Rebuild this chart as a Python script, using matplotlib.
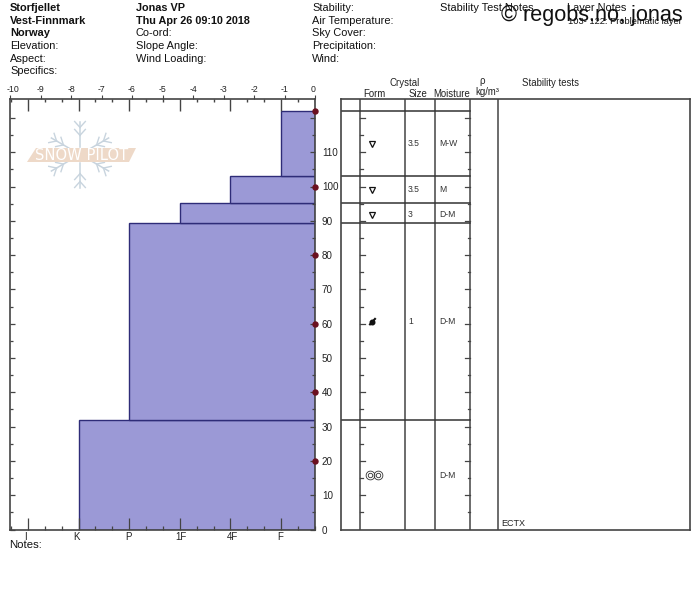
import math
import matplotlib
matplotlib.use("Agg")
import matplotlib.pyplot as plt
from matplotlib.patches import Polygon
from matplotlib.transforms import ScaledTranslation

W, H = 700, 592
plt.rcParams['font.family'] = ['Liberation Sans', 'DejaVu Sans']

# ---- data ----
layer_bottom = [0, 32, 89.3, 95.2, 103]
layer_top = [32, 89.3, 95.2, 103, 122]
hardness_labels = ['I', 'K', 'P', '1F', '4F', 'F']
layer_hardness = ['K', 'P', '1F', '4F', 'F']
layer_form = ['rounds', 'dot', 'facet', 'facet', 'facet']
layer_form_depth = [15.8, 60.5, 91.8, 99.1, 112.4]
layer_size = ['', '1', '3', '3.5', '3.5']
layer_moisture = ['D-M', 'D-M', 'D-M', 'M', 'M-W']
depth_ticks = [0, 10, 20, 30, 40, 50, 60, 70, 80, 90, 100, 110]
depth_tick_extra = [120]
temp_ticks = [-10, -9, -8, -7, -6, -5, -4, -3, -2, -1, 0]
temp_points_depth = [20, 40, 60, 80, 100, 122]

hdr_col1 = ['Storfjellet', 'Vest-Finnmark', 'Norway']
hdr_col1b = ['Elevation:', 'Aspect:', 'Specifics:']
hdr_col2 = ['Jonas VP', 'Thu Apr 26 09:10 2018']
hdr_col2b = ['Co-ord:', 'Slope Angle:', 'Wind Loading:']
hdr_col3 = ['Stability:', 'Air Temperature:', 'Sky Cover:', 'Precipitation:', 'Wind:']

fig = plt.figure(figsize=(W / 100, H / 100), dpi=100, facecolor='white')


def axpx(x0, y0, x1, y1, **kw):
    return fig.add_axes([x0 / W, 1 - y1 / H, (x1 - x0) / W, (y1 - y0) / H], **kw)


def txt(x, y, s, size=7.95, **kw):
    kw.setdefault('color', '#111111')
    kw.setdefault('va', 'center')
    fig.text(x / W, 1 - y / H, s, fontsize=size, **kw)


def nudge(tick, dx_px):
    for lbl in (tick.label1, tick.label2):
        lbl.set_transform(lbl.get_transform() + ScaledTranslation(dx_px / 100, 0, fig.dpi_scale_trans))


DARK = '#444444'
Y0, Y1 = 529.5, 98.5
YMAX = (Y0 - Y1) / 3.43
X0, X1 = 10, 315
depth_minor = list(range(5, 120, 10))

# ---- left panel: bars on the hardness scale ----
hx = axpx(X0, Y1, X1, Y0)
HARD_X = {h: i for i, h in enumerate(hardness_labels)}
right_edge = (X1 - 28) / 50.6
hard_lim = ((X0 - 28) / 50.6, right_edge)
hard_minor = [i + d for i in range(-1, 6) for d in (1 / 3, 2 / 3)
              if X0 < 28 + (i + d) * 50.6 < X1]
hx.set_xlim(*hard_lim)
hx.set_ylim(0, YMAX)
for b, t, h in zip(layer_bottom, layer_top, layer_hardness):
    left = HARD_X[h]
    hx.barh((b + t) / 2, right_edge - left, height=t - b, left=left,
            color='#9b99d6', edgecolor='#2e2c78', linewidth=1.0, zorder=2)
hx.set_axisbelow(False)
hx.set_xticks(range(6))
hx.set_xticklabels(hardness_labels, fontsize=7, color='#222222')
hx.set_xticks(hard_minor, minor=True)
hx.tick_params(axis='x', which='major', direction='in', length=8.5, width=0.9, color=DARK, pad=1.5)
hx.tick_params(axis='x', which='minor', direction='in', length=2.6, width=0.9, color=DARK)
hx.set_yticks([])
for s in hx.spines.values():
    s.set_visible(False)
# same hardness scale, marks hanging from the upper edge
hx.vlines(range(6), YMAX - 3.5, YMAX, color=DARK, lw=1.0, zorder=3)
hx.vlines(hard_minor, YMAX - 1.05, YMAX, color=DARK, lw=1.0, zorder=3)
hx.set_xlim(*hard_lim)
hx.set_ylim(0, YMAX)

# ---- left panel: temperature scale and depth scale ----
ax = axpx(X0, Y1, X1, Y0)
ax.patch.set_alpha(0)
ax.set_xlim(-10, 0)
ax.set_ylim(0, YMAX)
for s in ax.spines.values():
    s.set_color(DARK)
    s.set_linewidth(1.2)
ax.xaxis.tick_top()
ax.set_xticks(temp_ticks)
ax.set_xticklabels([str(t) for t in temp_ticks], fontsize=6.3, color='#222222')
ax.tick_params(axis='x', direction='out', length=3.2, width=0.8, color=DARK, pad=0.4)
ax.set_yticks(depth_ticks + depth_tick_extra)
ax.set_yticklabels([str(d) for d in depth_ticks] + [''], fontsize=7.1, color='#222222')
ax.tick_params(axis='y', which='major', direction='in', length=3.6, width=0.9, color=DARK,
               left=True, right=True, labelleft=False, labelright=True, pad=5)
ax.set_yticks(depth_minor, minor=True)
ax.tick_params(axis='y', which='minor', direction='in', length=2.2, width=0.9, color=DARK,
               left=True, right=True)
ax.plot([0] * len(temp_points_depth), temp_points_depth, ls='none', marker='o', ms=3.6,
        color='#6b1020', clip_on=False, zorder=8)

# small sideways offsets of the tick labels, as in the picture
for tick, dx in zip(hx.xaxis.get_major_ticks(), [-3, -1.6, -1, 1, 2, -1]):
    nudge(tick, dx)
temp_tick_objs = ax.xaxis.get_major_ticks()
nudge(temp_tick_objs[0], 3)
nudge(temp_tick_objs[-1], -2)

# ---- right panel: layer table ----
R0, R1 = 340.5, 689.5
rx = axpx(R0, Y1, R1, Y0)
rx.set_xlim(R0, R1)
rx.set_ylim(0, YMAX)
rx.set_xticks([])
rx.set_yticks([])
for s in rx.spines.values():
    s.set_color(DARK)
    s.set_linewidth(1.2)
COLS = [360, 405, 434.5, 470, 498]
for c in COLS:
    rx.axvline(c, color=DARK, lw=1.1)
for t in layer_top:
    rx.plot([R0, 470], [t, t], color='#333333', lw=1.1)
for d in depth_ticks[1:] + depth_tick_extra:
    rx.plot([360, 365], [d, d], color=DARK, lw=0.9)
    rx.plot([465, 470], [d, d], color=DARK, lw=0.9)
for d in depth_minor:
    rx.plot([360, 362.5], [d, d], color=DARK, lw=0.9)
    rx.plot([467.5, 470], [d, d], color=DARK, lw=0.9)

for d, form, size, moist in zip(layer_form_depth, layer_form, layer_size, layer_moisture):
    if form == 'facet':
        rx.plot(372, d, marker='v', ms=4.2, mfc='white', mec='#111111', mew=0.9, ls='none')
    elif form == 'dot':
        rx.plot(372, d, marker='o', ms=3.3, color='#111111', ls='none')
        rx.plot([370, 375], [d - 0.7, d + 0.9], color='#111111', lw=1.5)
    else:
        for cx in (370, 378):
            rx.plot(cx, d, marker='o', ms=6.3, mfc='none', mec='#333333', mew=0.6, ls='none')
            rx.plot(cx, d, marker='o', ms=3.2, mfc='none', mec='#333333', mew=0.6, ls='none')
    if size:
        rx.text(408, d, size, fontsize=6.2, va='center', color='#333333')
    rx.text(439, d, moist, fontsize=6.2, va='center', color='#333333')
rx.text(501.5, 1.8, 'ECTX', fontsize=6.5, va='center', color='#222222')

# ---- logo ----
logo = fig.add_axes([0, 0, 1, 1])
logo.set_xlim(0, W)
logo.set_ylim(H, 0)
logo.axis('off')
logo.patch.set_alpha(0)
cx, cy = 80, 154.5
FLAKE = '#c8d4de'
for ang in range(0, 360, 60):
    a = math.radians(ang + 90)
    ex, ey = cx + 33 * math.cos(a), cy - 33 * math.sin(a)
    logo.plot([cx + 8 * math.cos(a), ex], [cy - 8 * math.sin(a), ey], color=FLAKE, lw=1.1)
    for frac in (0.58, 0.82):
        mx, my = cx + 33 * frac * math.cos(a), cy - 33 * frac * math.sin(a)
        for da in (-42, 42):
            b = math.radians(ang + 90 + da)
            logo.plot([mx, mx + 8 * math.cos(b)], [my, my - 8 * math.sin(b)], color=FLAKE, lw=1.0)
logo.add_patch(Polygon([(27, 162), (129, 162), (136, 148), (36, 148)], closed=True,
                       facecolor='#eed9c8', edgecolor='none', zorder=3))
logo.text(82, 155, 'SNOW PILOT', color='white', fontsize=10.6, ha='center', va='center',
          zorder=4, family=['DejaVu Sans'])

# ---- header ----
rows = [8, 21, 33.5, 46, 59, 71.5]
for y, s in zip(rows, hdr_col1):
    txt(10, y, s, size=7.9, fontweight='bold')
for y, s in zip(rows[3:], hdr_col1b):
    txt(10, y, s)
for y, s in zip(rows, hdr_col2):
    txt(136, y, s, size=7.8, fontweight='bold')
for y, s in zip(rows[2:], hdr_col2b):
    txt(136, y, s)
for y, s in zip(rows, hdr_col3):
    txt(312, y, s)
txt(440, 8, 'Stability Test Notes')
txt(567, 8, 'Layer Notes')
txt(568, 21, '103- 122: Problematic layer', size=6.7)
txt(501, 15.5, '© regobs.no, jonas', size=15.6, color='#111111')

txt(405, 83, 'Crystal', size=6.9, ha='center', color='#222222')
txt(374, 93.5, 'Form', size=6.9, ha='center', color='#222222')
txt(418, 93.5, 'Size', size=6.9, ha='center', color='#222222')
txt(451.5, 93.5, 'Moisture', size=6.9, ha='center', color='#222222')
txt(482, 80.5, 'ρ', size=6.9, ha='center', color='#222222')
txt(487, 92, 'kg/m³', size=6.9, ha='center', color='#222222')
txt(550, 83, 'Stability tests', size=6.9, ha='center', color='#222222')
txt(9, 545, 'Notes:', size=8.2)

fig.savefig('out.png', dpi=100)
